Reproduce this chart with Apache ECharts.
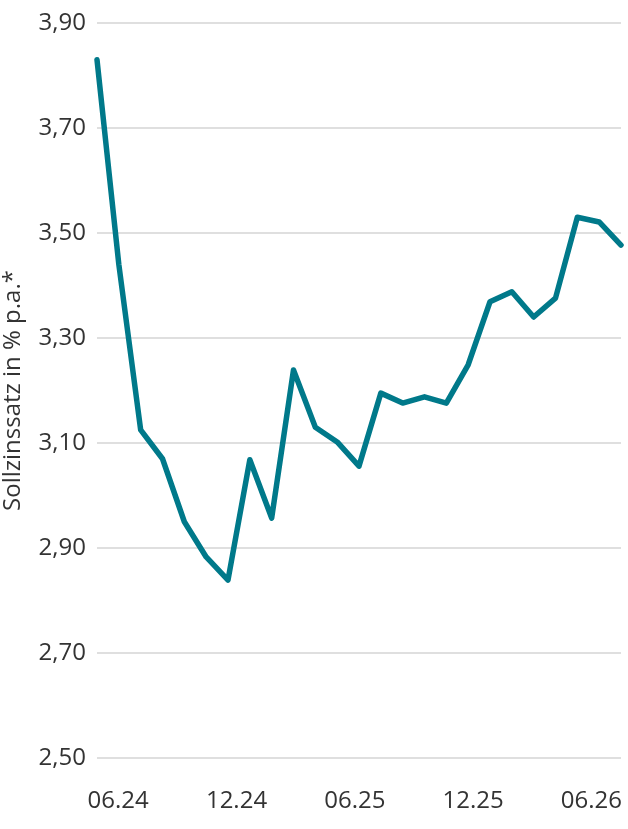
<!DOCTYPE html>
<html><head><meta charset="utf-8">
<script src="https://cdn.jsdelivr.net/npm/echarts@6/dist/echarts.min.js"></script>
<style>html,body{margin:0;padding:0;background:#fff}#c{width:628px;height:829px}</style>
</head><body><div id="c"></div>
<script>
// Point index (0..24), roughly monthly steps
const values = [3.83, 3.44, 3.125, 3.07, 2.95, 2.883, 2.839, 3.068, 2.957, 3.239, 3.13, 3.102, 3.056, 3.195, 3.176, 3.188, 3.176, 3.249, 3.369, 3.388, 3.34, 3.376, 3.53, 3.521, 3.477];
const tickLabels = ['06.24', '12.24', '06.25', '12.25', '06.26'];
const tickMonths = [0, 6, 12, 18, 24];   // months after 06.24
const yTicks = [2.5, 2.7, 2.9, 3.1, 3.3, 3.5, 3.7, 3.9];

const data = values.map((v, i) => [i, v]);
const font = 'Open Sans';
const chart = echarts.init(document.getElementById('c'));
chart.setOption({
  animation: false,
  grid: { left: 97, right: 7, top: 23, bottom: 71, outerBoundsMode: 'none', containLabel: false },
  xAxis: [
    { type: 'value', min: 0, max: values.length - 1, show: false },
    { type: 'value', position: 'bottom', min: -1.075, max: 25.5,
      axisLine: { show: false }, axisTick: { show: false }, splitLine: { show: false },
      axisLabel: { customValues: tickMonths, color: '#333', fontSize: 24, fontFamily: font, margin: 31,
        formatter: v => tickLabels[tickMonths.indexOf(Math.round(v))] || '' } }
  ],
  yAxis: {
    type: 'value', min: 2.5, max: 3.9, interval: 0.2,
    name: 'Sollzinssatz in % p.a.*', nameLocation: 'middle', nameGap: 72,
    nameTextStyle: { color: '#333', fontSize: 24, fontFamily: font },
    axisLine: { show: false }, axisTick: { show: false },
    axisLabel: { color: '#333', fontSize: 24, fontFamily: font, margin: 11,
      formatter: v => v.toFixed(2).replace('.', ',') },
    splitLine: { lineStyle: { color: '#d4d4d4', width: 1.5 } }
  },
  series: [{
    type: 'line', xAxisIndex: 0, data: data, showSymbol: false,
    lineStyle: { color: '#00798A', width: 5.5, join: 'round', cap: 'round' }
  }]
});
</script></body></html>
